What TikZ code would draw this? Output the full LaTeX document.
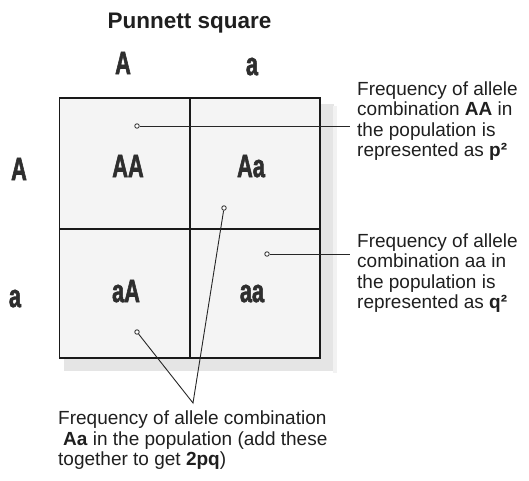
\documentclass[tikz,border=0pt]{standalone}
\usepackage{fontspec}
\setmainfont{Liberation Sans}
\newfontfamily\heavyfont{Liberation Sans Bold}[FakeBold=2.4]
\begin{document}
\begin{tikzpicture}[x=1pt,y=-1pt,
  lbl/.style={inner sep=0pt,anchor=north west,align=left,font=\fontsize{19}{20.5}\selectfont,text=black!88},
  hdr/.style={inner sep=0pt,anchor=base,font=\fontsize{32}{32}\heavyfont\bfseries,text=black!82},
  dotmark/.style={circle,draw=black!85,fill=white,line width=0.8pt,inner sep=0pt,minimum size=4.5pt},
  conn/.style={draw=black!85,line width=0.9pt},
  gridline/.style={draw=black!90,line width=1.6pt}]
\useasboundingbox (0,0) rectangle (529,480);
% shadow
\fill[gray!20] (64,104) rectangle (334,371);
\fill[gray!10] (333,106) rectangle (337,373);
% square
\fill[gray!9] (59.5,98) rectangle (320,358);
\draw[gridline] (59.5,98) rectangle (320,358);
\draw[gridline,line width=1.3pt] (190,98) -- (190,358);
\draw[gridline,line width=1.3pt] (59.5,229) -- (320,229);
% title and headers
\node[inner sep=0pt,anchor=base,font=\fontsize{22.5}{22.5}\selectfont\bfseries,text=black!88] (title) at (189.5,28) {Punnett square};
\node[hdr] (colA) at (123,74) {\scalebox{0.68}[1]{A}};
\node[hdr] (cola) at (252,75) {\scalebox{0.68}[1]{a}};
\node[hdr] (rowA) at (19,180) {\scalebox{0.68}[1]{A}};
\node[hdr] (rowa) at (15,307) {\scalebox{0.68}[1]{a}};
\node[hdr] (cAA) at (128,177) {\scalebox{0.68}[1]{AA}};
\node[hdr] (cAa) at (251,177) {\scalebox{0.68}[1]{Aa}};
\node[hdr] (caA) at (126,302) {\scalebox{0.68}[1]{aA}};
\node[hdr] (caa) at (252,302) {\scalebox{0.68}[1]{aa}};
% connector points
\coordinate (endAA) at (350,126);
\coordinate (endaa) at (350,254);
\coordinate (apex) at (193,403);
\node[dotmark] (dAA) at (137,126) {};
\node[dotmark] (dAa) at (224,208) {};
\node[dotmark] (daa) at (267,254) {};
\node[dotmark] (daA) at (137,332) {};
\draw[conn] (dAA) -- (endAA);
\draw[conn] (daa) -- (endaa);
\draw[conn] (daA) -- (apex) -- (dAa);
% labels
\node[lbl] (labAA) at (357,81.5) {Frequency of allele\\combination \textbf{AA} in\\the population is\\represented as \textbf{p²}};
\node[lbl] (labaa) at (357,233.5) {Frequency of allele\\combination aa in\\the population is\\represented as \textbf{q²}};
\node[lbl] (labAa) at (58,411) {Frequency of allele combination\\\hspace*{5pt}\textbf{Aa} in the population (add these\\together to get \textbf{2pq})};
\end{tikzpicture}
\end{document}
